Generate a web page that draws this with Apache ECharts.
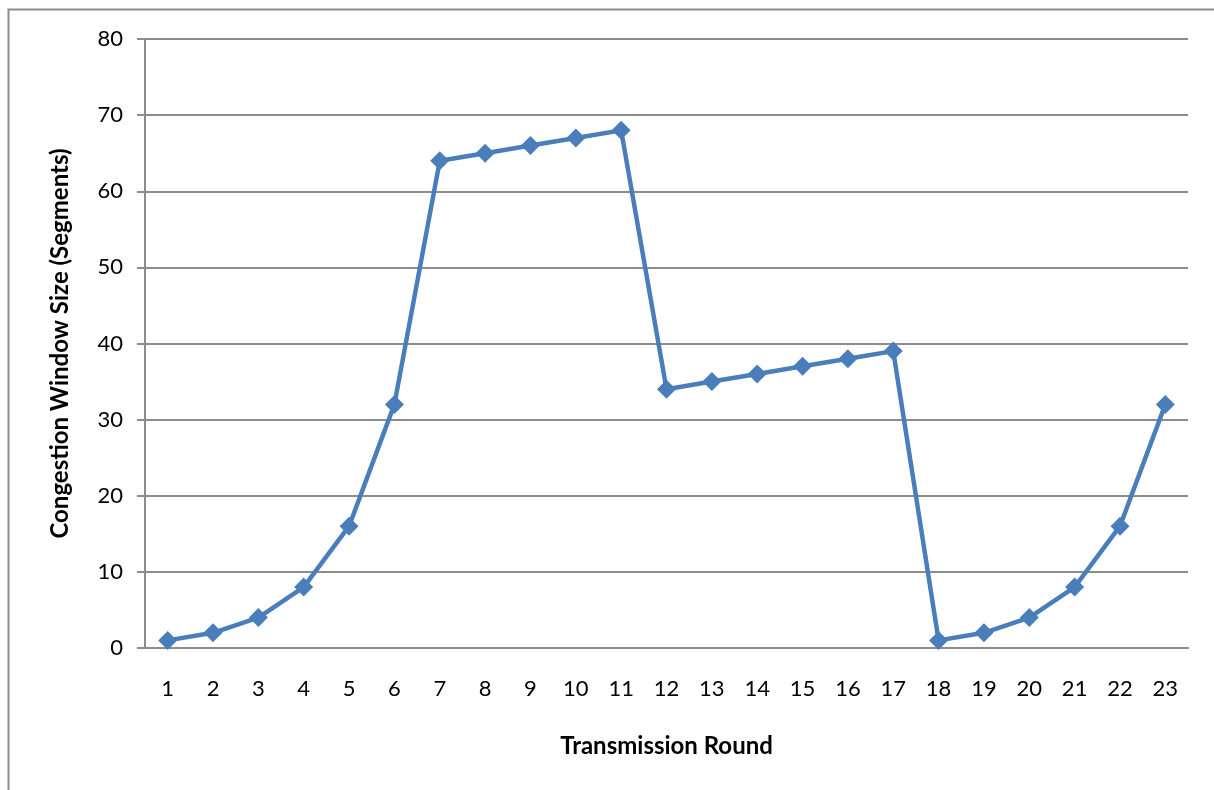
<!DOCTYPE html>
<html>
<head>
<meta charset="utf-8">
<script src="https://cdn.jsdelivr.net/npm/echarts@6/dist/echarts.min.js"></script>
<style>
  html, body { margin: 0; padding: 0; background: #fff; }
  #chart { width: 1214px; height: 790px; }
</style>
</head>
<body>
<div id="chart"></div>
<script>
// transmission rounds and congestion window sizes
var rounds = ['1','2','3','4','5','6','7','8','9','10','11','12','13','14','15','16','17','18','19','20','21','22','23']
var cwnd = [1, 2, 4, 8, 16, 32, 64, 65, 66, 67, 68, 34, 35, 36, 37, 38, 39, 1, 2, 4, 8, 16, 32]

var font = 'Lato, "Open Sans", sans-serif'

echarts.init(document.querySelector('#chart')).setOption({
    animation: false,
    graphic: [{
        type: 'rect',
        shape: { x: 8.5, y: 9.5, width: 1220, height: 800 },
        style: { fill: 'none', stroke: '#8c8c8c', lineWidth: 2 }
    }],
    grid: {
        left: 145,
        right: 26,
        top: 39,
        bottom: 142
    },
    xAxis: {
        type: 'category',
        data: rounds,
        boundaryGap: true,
        name: 'Transmission Round',
        nameLocation: 'middle',
        nameGap: 86,
        nameTextStyle: { fontFamily: font, fontSize: 24, fontWeight: 'bold', color: '#000' },
        axisLine: { lineStyle: { color: '#8c8c8c', width: 2 } },
        axisTick: { show: false },
        axisLabel: { fontFamily: font, fontSize: 22, color: '#000', margin: 30, interval: 0 }
    },
    yAxis: {
        type: 'value',
        min: 0,
        max: 80,
        interval: 10,
        name: 'Congestion Window Size (Segments)',
        nameLocation: 'middle',
        nameGap: 73,
        nameTextStyle: { fontFamily: font, fontSize: 24, fontWeight: 'bold', color: '#000' },
        axisLine: { show: true, lineStyle: { color: '#8c8c8c', width: 2 } },
        axisTick: { show: true, length: 8, lineStyle: { color: '#8c8c8c', width: 2 } },
        axisLabel: { fontFamily: font, fontSize: 22, color: '#000', margin: 22 },
        splitLine: { lineStyle: { color: '#8c8c8c', width: 2 } }
    },
    series: [{
        type: 'line',
        data: cwnd,
        symbol: 'diamond',
        symbolSize: 19,
        lineStyle: { color: '#4a7ebb', width: 4.5 },
        itemStyle: { color: '#4a7ebb' }
    }]
});
</script>
</body>
</html>
